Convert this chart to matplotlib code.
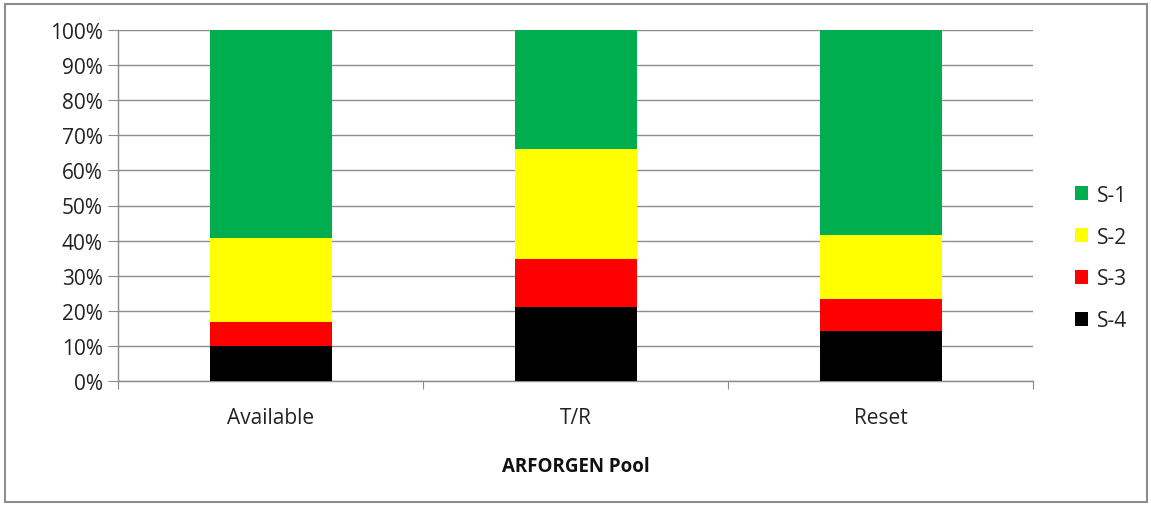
import matplotlib
matplotlib.use("Agg")
import matplotlib.pyplot as plt
from matplotlib.patches import Rectangle
import numpy as np

categories = ["Available", "T/R", "Reset"]
series_names = ["S-1", "S-2", "S-3", "S-4"]
s4 = [10.1, 21.0, 14.3]
s3 = [6.7, 13.8, 9.0]
s2 = [23.9, 31.3, 18.4]
s1 = [59.3, 33.9, 58.3]
colors = {"S-1": "#00AE4F", "S-2": "#FFFF00", "S-3": "#FF0000", "S-4": "#000000"}

plt.rcParams['font.family'] = ['Open Sans', 'DejaVu Sans']

W, H = 1151, 506
fig = plt.figure(figsize=(W/100, H/100), dpi=100)
ax = fig.add_axes([118/W, 1-382/H, (1033-118)/W, (382-31)/H])

x = np.arange(len(categories))
bottom = np.zeros(len(categories))
handles = {}
for name, vals in [("S-4", s4), ("S-3", s3), ("S-2", s2), ("S-1", s1)]:
    vals = np.array(vals)
    b = ax.bar(x, vals, 0.4, bottom=bottom, color=colors[name], zorder=3)
    handles[name] = b
    bottom += vals

FS = 15
ax.set_xlim(-0.5, 2.5)
ax.set_ylim(0, 100)
ax.set_yticks(np.arange(0, 101, 10))
ax.set_yticklabels([f"{v}%" for v in range(0, 101, 10)], fontsize=FS, color="#222222")
ax.yaxis.grid(True, color="#8c8c8c", linewidth=1, zorder=0)
ax.set_axisbelow(True)

ax.set_xticks([-0.5, 0.5, 1.5, 2.5], minor=False)
ax.set_xticklabels([])
ax.set_xticks(x, minor=True)
ax.set_xticklabels(categories, minor=True, fontsize=FS, color="#222222")
ax.tick_params(axis='x', which='minor', length=0, pad=19)
ax.tick_params(axis='x', which='major', length=6, color="#8c8c8c", direction='out')
ax.tick_params(axis='y', length=7, color="#8c8c8c", direction='out', pad=4)

for s in ["top", "right"]:
    ax.spines[s].set_visible(False)
for s in ["left", "bottom"]:
    ax.spines[s].set_color("#8c8c8c")
    ax.spines[s].set_linewidth(1)

ax.set_xlabel("ARFORGEN Pool", fontsize=13.5, fontweight="bold", labelpad=20, color="#111111")

leg = fig.legend([handles[n] for n in series_names], series_names,
                 loc="upper left", bbox_to_anchor=(1056/W, 1-167/H),
                 frameon=False, fontsize=FS, handlelength=0.65, handleheight=0.65,
                 labelspacing=1.0, handletextpad=0.4)
for t in leg.get_texts():
    t.set_color("#222222")

fig.patches.append(Rectangle((5/W, 3/H), (1147-5)/W, (501-3)/H, transform=fig.transFigure,
                             fill=False, edgecolor="#8c8c8c", linewidth=1.5))

fig.savefig("out.png", dpi=100)
